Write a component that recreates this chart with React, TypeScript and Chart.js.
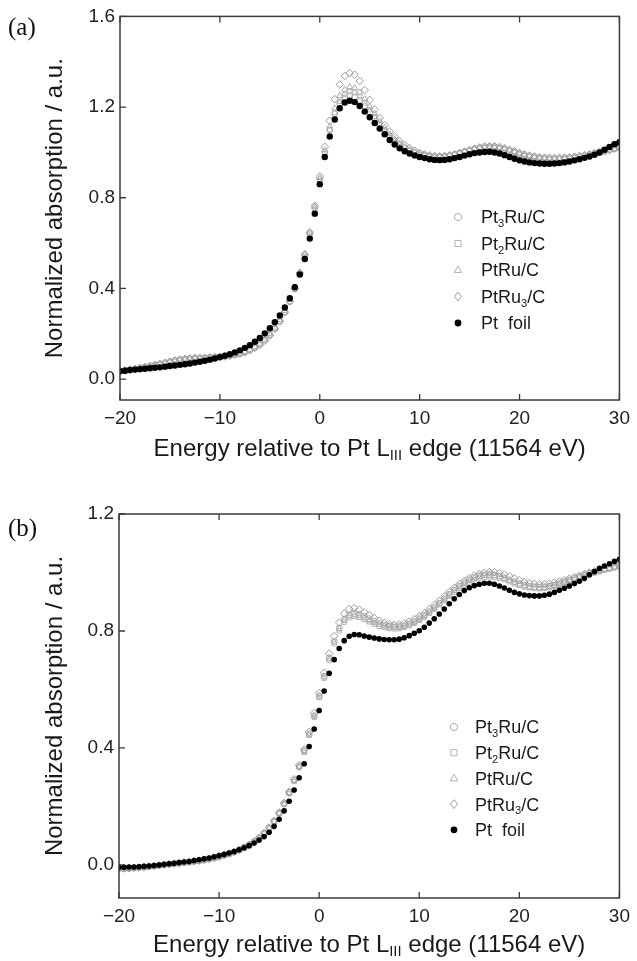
import React, { useEffect, useRef } from "react";
import { Chart, registerables } from "chart.js";
Chart.register(...registerables);

// ---------- DATA ----------
const energy = [
  -20, -19.5, -19, -18.5, -18, -17.5, -17, -16.5, -16, -15.5,
  -15, -14.5, -14, -13.5, -13, -12.5, -12, -11.5, -11, -10.5,
  -10, -9.5, -9, -8.5, -8, -7.5, -7, -6.5, -6, -5.5,
  -5, -4.5, -4, -3.5, -3, -2.5, -2, -1.5, -1, -0.5,
  0, 0.5, 1, 1.5, 2, 2.5, 3, 3.5, 4, 4.5,
  5, 5.5, 6, 6.5, 7, 7.5, 8, 8.5, 9, 9.5,
  10, 10.5, 11, 11.5, 12, 12.5, 13, 13.5, 14, 14.5,
  15, 15.5, 16, 16.5, 17, 17.5, 18, 18.5, 19, 19.5,
  20, 20.5, 21, 21.5, 22, 22.5, 23, 23.5, 24, 24.5,
  25, 25.5, 26, 26.5, 27, 27.5, 28, 28.5, 29, 29.5,
  30,
];

// Panel (a)
const aPt3Ru = [
  0.036, 0.039, 0.042, 0.045, 0.049, 0.053, 0.057, 0.062, 0.067, 0.072,
  0.077, 0.082, 0.086, 0.089, 0.091, 0.092, 0.093, 0.094, 0.095, 0.097,
  0.099, 0.101, 0.104, 0.108, 0.113, 0.12, 0.129, 0.14, 0.155, 0.174,
  0.197, 0.225, 0.258, 0.298, 0.345, 0.4, 0.465, 0.545, 0.64, 0.755,
  0.88, 1.0, 1.1, 1.17, 1.215, 1.24, 1.25, 1.245, 1.23, 1.205,
  1.178, 1.15, 1.122, 1.096, 1.072, 1.052, 1.035, 1.02, 1.008, 0.998,
  0.99, 0.985, 0.982, 0.98, 0.98, 0.982, 0.985, 0.99, 0.995, 1.0,
  1.006, 1.012, 1.016, 1.019, 1.02, 1.019, 1.016, 1.011, 1.004, 0.997,
  0.99, 0.984, 0.979, 0.975, 0.972, 0.97, 0.969, 0.969, 0.97, 0.971,
  0.973, 0.976, 0.979, 0.983, 0.988, 0.993, 0.998, 1.004, 1.01, 1.017,
  1.024,
];
const aPt2Ru = [
  0.034, 0.037, 0.04, 0.043, 0.047, 0.051, 0.055, 0.06, 0.065, 0.07,
  0.075, 0.079, 0.083, 0.086, 0.088, 0.09, 0.091, 0.092, 0.094, 0.096,
  0.098, 0.1, 0.103, 0.107, 0.112, 0.119, 0.128, 0.139, 0.153, 0.171,
  0.194, 0.222, 0.255, 0.294, 0.34, 0.395, 0.46, 0.54, 0.635, 0.75,
  0.875, 0.995, 1.1, 1.175, 1.225, 1.255, 1.268, 1.263, 1.245, 1.218,
  1.188, 1.158, 1.128, 1.1, 1.075, 1.054, 1.036, 1.021, 1.009, 0.999,
  0.991, 0.986, 0.983, 0.981, 0.981, 0.983, 0.986, 0.991, 0.997, 1.003,
  1.009, 1.015, 1.02, 1.023, 1.024, 1.023, 1.02, 1.015, 1.008, 1.0,
  0.993, 0.987, 0.982, 0.978, 0.975, 0.973, 0.972, 0.972, 0.973, 0.974,
  0.976, 0.979, 0.982, 0.986, 0.99, 0.995, 1.0, 1.005, 1.011, 1.017,
  1.023,
];
const aPtRu = [
  0.037, 0.04, 0.043, 0.047, 0.051, 0.055, 0.06, 0.064, 0.069, 0.074,
  0.079, 0.084, 0.088, 0.091, 0.093, 0.094, 0.095, 0.096, 0.097, 0.098,
  0.1, 0.102, 0.105, 0.109, 0.114, 0.121, 0.13, 0.142, 0.157, 0.176,
  0.2, 0.228, 0.262, 0.302, 0.35, 0.406, 0.472, 0.552, 0.648, 0.762,
  0.888, 1.01, 1.115, 1.195, 1.25, 1.278, 1.29, 1.285, 1.265, 1.236,
  1.203, 1.17, 1.138, 1.108, 1.082, 1.06, 1.041, 1.025, 1.012, 1.002,
  0.994, 0.988, 0.984, 0.982, 0.982, 0.984, 0.987, 0.992, 0.998, 1.004,
  1.01, 1.016, 1.021, 1.024, 1.026, 1.025, 1.022, 1.017, 1.01, 1.003,
  0.996, 0.99, 0.985, 0.981, 0.978, 0.976, 0.975, 0.975, 0.975, 0.976,
  0.978, 0.98, 0.983, 0.987, 0.991, 0.996, 1.0, 1.005, 1.01, 1.015,
  1.02,
];
const aPtRu3 = [
  0.035, 0.038, 0.041, 0.044, 0.048, 0.052, 0.056, 0.061, 0.066, 0.071,
  0.076, 0.081, 0.085, 0.088, 0.09, 0.092, 0.093, 0.094, 0.095, 0.096,
  0.098, 0.1, 0.103, 0.107, 0.112, 0.118, 0.127, 0.138, 0.152, 0.17,
  0.193, 0.221, 0.255, 0.295, 0.343, 0.4, 0.468, 0.55, 0.648, 0.765,
  0.895, 1.025, 1.14, 1.235, 1.3, 1.337, 1.35, 1.343, 1.315, 1.275,
  1.232, 1.19, 1.152, 1.12, 1.093, 1.07, 1.05, 1.033, 1.019, 1.008,
  0.999, 0.992, 0.987, 0.984, 0.983, 0.984, 0.987, 0.992, 0.998, 1.004,
  1.011, 1.017, 1.022, 1.026, 1.028, 1.027, 1.024, 1.019, 1.012, 1.005,
  0.998, 0.991, 0.986, 0.982, 0.979, 0.977, 0.976, 0.976, 0.976, 0.977,
  0.979, 0.981, 0.984, 0.988, 0.992, 0.997, 1.002, 1.007, 1.012, 1.017,
  1.022,
];
const aPtFoil = [
  0.035, 0.037, 0.04, 0.042, 0.044, 0.046, 0.048, 0.05, 0.052, 0.055,
  0.058, 0.06, 0.063, 0.066, 0.069, 0.073, 0.077, 0.081, 0.086, 0.091,
  0.097, 0.103, 0.11, 0.118, 0.127, 0.138, 0.15, 0.165, 0.182, 0.202,
  0.225, 0.251, 0.281, 0.316, 0.357, 0.405, 0.462, 0.53, 0.62, 0.73,
  0.86, 0.98, 1.07, 1.145, 1.195, 1.22, 1.228, 1.222, 1.205, 1.18,
  1.155, 1.13, 1.105, 1.08, 1.055, 1.035, 1.018, 1.005, 0.995, 0.987,
  0.98, 0.975, 0.97, 0.967, 0.966, 0.967, 0.97, 0.975, 0.98, 0.986,
  0.992, 0.997, 1.0, 1.002, 1.003, 1.0, 0.995, 0.988, 0.98, 0.972,
  0.965, 0.96, 0.956, 0.953, 0.951, 0.95, 0.95, 0.951, 0.953, 0.956,
  0.96, 0.965, 0.97, 0.976, 0.982, 0.99, 1.0, 1.012, 1.024, 1.036,
  1.045,
];

// Panel (b)
const bPt3Ru = [
  -0.012, -0.013, -0.012, -0.01, -0.008, -0.008, -0.006, -0.004, -0.002, 0.0,
  0.002, 0.004, 0.006, 0.008, 0.01, 0.012, 0.014, 0.017, 0.02, 0.024,
  0.028, 0.033, 0.038, 0.044, 0.051, 0.059, 0.068, 0.079, 0.092, 0.108,
  0.127, 0.15, 0.178, 0.21, 0.248, 0.29, 0.337, 0.39, 0.448, 0.51,
  0.578, 0.645, 0.708, 0.765, 0.81, 0.84, 0.855, 0.86, 0.857, 0.85,
  0.842, 0.834, 0.826, 0.82, 0.816, 0.814, 0.815, 0.818, 0.824, 0.832,
  0.842, 0.853, 0.866, 0.88, 0.895, 0.91, 0.925, 0.94, 0.953, 0.965,
  0.975, 0.983, 0.989, 0.992, 0.993, 0.992, 0.988, 0.982, 0.975, 0.968,
  0.962, 0.957, 0.953, 0.951, 0.95, 0.951, 0.953, 0.957, 0.962, 0.968,
  0.974, 0.98, 0.986, 0.992, 0.998, 1.003, 1.008, 1.012, 1.016, 1.02,
  1.024,
];
const bPt2Ru = [
  -0.01, -0.011, -0.011, -0.009, -0.008, -0.007, -0.005, -0.003, -0.001, 0.001,
  0.003, 0.005, 0.007, 0.009, 0.011, 0.013, 0.015, 0.018, 0.021, 0.025,
  0.029, 0.034, 0.039, 0.045, 0.052, 0.06, 0.069, 0.08, 0.093, 0.108,
  0.126, 0.148, 0.175, 0.206, 0.243, 0.285, 0.332, 0.385, 0.443, 0.505,
  0.572, 0.638, 0.7, 0.756, 0.8, 0.83, 0.845, 0.849, 0.846, 0.839,
  0.831, 0.823, 0.816, 0.811, 0.808, 0.807, 0.808, 0.812, 0.818, 0.826,
  0.836, 0.847, 0.86, 0.874, 0.889, 0.904, 0.919, 0.933, 0.946, 0.957,
  0.967, 0.975, 0.981, 0.984, 0.985, 0.984, 0.98, 0.975, 0.968, 0.961,
  0.955, 0.95, 0.947, 0.945, 0.944, 0.945, 0.948, 0.952, 0.957, 0.963,
  0.969, 0.975, 0.981, 0.987, 0.993, 0.998, 1.003, 1.008, 1.012, 1.016,
  1.02,
];
const bPtRu = [
  -0.013, -0.014, -0.013, -0.011, -0.009, -0.009, -0.007, -0.005, -0.003, -0.001,
  0.001, 0.003, 0.005, 0.007, 0.009, 0.011, 0.013, 0.016, 0.019, 0.023,
  0.027, 0.032, 0.037, 0.043, 0.05, 0.058, 0.067, 0.078, 0.091, 0.107,
  0.126, 0.149, 0.177, 0.209, 0.247, 0.289, 0.336, 0.389, 0.447, 0.509,
  0.576, 0.643, 0.706, 0.763, 0.807, 0.837, 0.851, 0.854, 0.851, 0.844,
  0.836, 0.828, 0.821, 0.816, 0.813, 0.812, 0.813, 0.817, 0.823, 0.831,
  0.841, 0.852, 0.865, 0.879, 0.894, 0.909, 0.924, 0.938, 0.951, 0.962,
  0.972, 0.98, 0.986, 0.989, 0.99, 0.989, 0.985, 0.98, 0.973, 0.966,
  0.959, 0.954, 0.95, 0.948, 0.947, 0.948, 0.951, 0.955, 0.96, 0.966,
  0.972, 0.978, 0.984, 0.99, 0.995, 1.0, 1.005, 1.01, 1.014, 1.018,
  1.022,
];
const bPtRu3 = [
  -0.012, -0.012, -0.011, -0.01, -0.009, -0.007, -0.005, -0.003, -0.001, 0.001,
  0.003, 0.005, 0.007, 0.009, 0.011, 0.013, 0.015, 0.018, 0.021, 0.025,
  0.029, 0.034, 0.039, 0.045, 0.052, 0.06, 0.069, 0.08, 0.093, 0.109,
  0.128, 0.151, 0.179, 0.212, 0.25, 0.293, 0.341, 0.395, 0.455, 0.519,
  0.588, 0.657, 0.723, 0.782, 0.829, 0.86, 0.875, 0.878, 0.873, 0.864,
  0.854, 0.844, 0.835, 0.828, 0.823, 0.821, 0.822, 0.826, 0.832, 0.84,
  0.85, 0.861, 0.874, 0.888, 0.903, 0.918, 0.933, 0.947, 0.96, 0.971,
  0.981, 0.989, 0.995, 0.999, 1.001, 1.001, 0.998, 0.993, 0.987, 0.98,
  0.974, 0.968, 0.964, 0.961, 0.96, 0.96, 0.962, 0.965, 0.969, 0.974,
  0.979, 0.984, 0.989, 0.994, 0.999, 1.004, 1.008, 1.012, 1.016, 1.02,
  1.024,
];
const bPtFoil = [
  -0.008, -0.008, -0.007, -0.007, -0.006, -0.005, -0.004, -0.002, 0.0, 0.002,
  0.004, 0.006, 0.008, 0.01, 0.012, 0.015, 0.018, 0.021, 0.024, 0.028,
  0.032, 0.036, 0.041, 0.046, 0.052, 0.059, 0.066, 0.075, 0.085, 0.097,
  0.112, 0.132, 0.156, 0.185, 0.218, 0.256, 0.298, 0.346, 0.405, 0.465,
  0.528, 0.595, 0.655, 0.702, 0.74, 0.767, 0.782, 0.788, 0.787, 0.783,
  0.779, 0.776, 0.773, 0.771, 0.77, 0.77, 0.772, 0.777, 0.784, 0.792,
  0.801, 0.813, 0.827, 0.842, 0.858, 0.875, 0.893, 0.91, 0.925, 0.938,
  0.948, 0.955, 0.96, 0.963, 0.963, 0.96, 0.954, 0.947, 0.939, 0.932,
  0.927, 0.923, 0.921, 0.92, 0.92, 0.922, 0.926, 0.932, 0.939, 0.946,
  0.954, 0.962, 0.97, 0.98, 0.992, 1.003, 1.014, 1.022, 1.03, 1.038,
  1.045,
];

const xTicks = [-20, -10, 0, 10, 20, 30];
const aYTicks = [0, 0.4, 0.8, 1.2, 1.6];
const bYTicks = [0, 0.4, 0.8, 1.2];

type Part = { t: string; sub?: boolean };
const seriesNames: Part[][] = [
  [{ t: "Pt" }, { t: "3", sub: true }, { t: "Ru/C" }],
  [{ t: "Pt" }, { t: "2", sub: true }, { t: "Ru/C" }],
  [{ t: "PtRu/C" }],
  [{ t: "PtRu" }, { t: "3", sub: true }, { t: "/C" }],
  [{ t: "Pt  foil" }],
];
const xTitle: Part[] = [
  { t: "Energy relative to Pt L" },
  { t: "III", sub: true },
  { t: " edge (11564 eV)" },
];
const yTitle = "Normalized absorption / a.u.";

// ---------- STYLE ----------
const FONT = '"Liberation Sans", Arial, Helvetica, sans-serif';
const SERIF = '"Liberation Serif", "Times New Roman", serif';
const styles = [
  { shape: "circle", color: "#ababab", r: 3, fill: false },
  { shape: "rect", color: "#b3b3b3", r: 3, fill: false },
  { shape: "triangle", color: "#b0b0b0", r: 3.5, fill: false },
  { shape: "rectRot", color: "#9c9c9c", r: 3.8, fill: false },
  { shape: "circle", color: "#000000", r: 2.8, fill: true },
];

function fontStr(size: number, family = FONT) {
  return `${size}px ${family}`;
}

function partsWidth(ctx: CanvasRenderingContext2D, parts: Part[], size: number) {
  let w = 0;
  for (const p of parts) {
    ctx.font = fontStr(p.sub ? size * 0.62 : size);
    w += ctx.measureText(p.t).width;
  }
  return w;
}

function drawParts(
  ctx: CanvasRenderingContext2D,
  parts: Part[],
  x: number,
  cy: number,
  size: number,
  align: "left" | "center"
) {
  const w = partsWidth(ctx, parts, size);
  let cx = align === "center" ? x - w / 2 : x;
  const base = cy + size * 0.36;
  ctx.textAlign = "left";
  ctx.textBaseline = "alphabetic";
  for (const p of parts) {
    const s = p.sub ? size * 0.62 : size;
    ctx.font = fontStr(s);
    ctx.fillText(p.t, cx, p.sub ? base + size * 0.2 : base);
    cx += ctx.measureText(p.t).width;
  }
}

function drawMarker(ctx: CanvasRenderingContext2D, st: any, x: number, y: number) {
  const r = st.r + 0.6;
  ctx.save();
  ctx.lineWidth = 1;
  ctx.strokeStyle = st.color;
  ctx.fillStyle = st.color;
  ctx.beginPath();
  if (st.shape === "circle") {
    ctx.arc(x, y, r, 0, Math.PI * 2);
  } else if (st.shape === "rect") {
    ctx.rect(x - r * 0.85, y - r * 0.85, r * 1.7, r * 1.7);
  } else if (st.shape === "triangle") {
    ctx.moveTo(x, y - r);
    ctx.lineTo(x + r * 0.9, y + r * 0.6);
    ctx.lineTo(x - r * 0.9, y + r * 0.6);
    ctx.closePath();
  } else {
    ctx.moveTo(x, y - r);
    ctx.lineTo(x + r * 0.8, y);
    ctx.lineTo(x, y + r);
    ctx.lineTo(x - r * 0.8, y);
    ctx.closePath();
  }
  if (st.fill) ctx.fill();
  else ctx.stroke();
  ctx.restore();
}

interface PanelCfg {
  label: string;
  labelY: number;
  series: number[][];
  yMin: number;
  yMax: number;
  yTicks: number[];
  padTop: number;
  padRight: number;
  yAxisW: number;
  xAxisH: number;
  legendMarkerX: number;
  legendTextX: number;
  legendY: number;
  legendGap: number;
  xTitleY: number;
  foilRadius: number;
}

function buildChart(canvas: HTMLCanvasElement, cfg: PanelCfg) {
  const decor = {
    id: "decor",
    afterDatasetsDraw(chart: any) {
      const ctx: CanvasRenderingContext2D = chart.ctx;
      const a = chart.chartArea;
      const xs = chart.scales.x;
      const ys = chart.scales.y;
      ctx.save();
      // frame
      ctx.strokeStyle = "#3a3a3a";
      ctx.lineWidth = 1.5;
      ctx.strokeRect(a.left, a.top, a.right - a.left, a.bottom - a.top);
      // inward tick marks
      ctx.lineWidth = 1.3;
      ctx.beginPath();
      for (const v of xTicks) {
        const px = xs.getPixelForValue(v);
        ctx.moveTo(px, a.bottom);
        ctx.lineTo(px, a.bottom - 6);
        ctx.moveTo(px, a.top);
        ctx.lineTo(px, a.top + 6);
      }
      for (const v of cfg.yTicks) {
        const py = ys.getPixelForValue(v);
        ctx.moveTo(a.left, py);
        ctx.lineTo(a.left + 6, py);
      }
      ctx.stroke();

      // legend
      seriesNames.forEach((parts, i) => {
        const y = cfg.legendY + i * cfg.legendGap;
        drawMarker(ctx, styles[i], cfg.legendMarkerX, y);
        ctx.fillStyle = "#1a1a1a";
        drawParts(ctx, parts, cfg.legendTextX, y, 18, "left");
      });

      // x title
      ctx.fillStyle = "#1a1a1a";
      drawParts(ctx, xTitle, (a.left + a.right) / 2, cfg.xTitleY, 24, "center");

      // y title
      ctx.save();
      ctx.translate(55, (a.top + a.bottom) / 2);
      ctx.rotate(-Math.PI / 2);
      ctx.font = fontStr(24);
      ctx.textAlign = "center";
      ctx.textBaseline = "middle";
      ctx.fillText(yTitle, 0, 0);
      ctx.restore();

      // panel label
      ctx.font = fontStr(25, SERIF);
      ctx.textAlign = "left";
      ctx.textBaseline = "middle";
      ctx.fillStyle = "#111";
      ctx.fillText(cfg.label, 8, cfg.labelY);
      ctx.restore();
    },
  };

  const datasets = cfg.series.map((vals, i) => {
    const st = styles[i];
    return {
      label: seriesNames[i].map((p) => p.t).join(""),
      data: energy.map((e, k) => ({ x: e, y: vals[k] })),
      showLine: false,
      pointStyle: st.shape,
      pointRadius: i === 4 ? cfg.foilRadius : st.r,
      pointBorderWidth: st.fill ? 0 : 1,
      pointBorderColor: st.color,
      pointBackgroundColor: st.fill ? st.color : "rgba(255,255,255,0)",
      order: i === 4 ? 0 : 5 - i,
    };
  });

  return new Chart(canvas, {
    type: "scatter",
    data: { datasets } as any,
    plugins: [decor],
    options: {
      responsive: false,
      animation: false,
      events: [],
      layout: { padding: { top: cfg.padTop, right: cfg.padRight, bottom: 0, left: 0 } },
      plugins: { legend: { display: false }, tooltip: { enabled: false } },
      scales: {
        x: {
          type: "linear",
          min: -20,
          max: 30,
          grid: { display: false, drawTicks: false },
          border: { display: false },
          ticks: {
            font: { family: FONT, size: 19 },
            color: "#222",
            padding: 7,
            maxRotation: 0,
            callback: (v: any) => (v < 0 ? "\u2212" + Math.abs(v) : String(v)),
          },
          afterBuildTicks: (s: any) => {
            s.ticks = xTicks.map((v) => ({ value: v }));
          },
          afterFit: (s: any) => {
            s.height = cfg.xAxisH;
          },
        },
        y: {
          type: "linear",
          min: cfg.yMin,
          max: cfg.yMax,
          grid: { display: false, drawTicks: false },
          border: { display: false },
          ticks: {
            font: { family: FONT, size: 19 },
            color: "#222",
            padding: 5,
            callback: (v: any) => Number(v).toFixed(1),
          },
          afterBuildTicks: (s: any) => {
            s.ticks = cfg.yTicks.map((v) => ({ value: v }));
          },
          afterFit: (s: any) => {
            s.width = cfg.yAxisW;
          },
        },
      },
    } as any,
  });
}

const panelA: PanelCfg = {
  label: "(a)",
  labelY: 28,
  series: [aPt3Ru, aPt2Ru, aPtRu, aPtRu3, aPtFoil],
  yMin: -0.092,
  yMax: 1.6,
  yTicks: aYTicks,
  padTop: 16,
  padRight: 11,
  yAxisW: 120,
  xAxisH: 80,
  legendMarkerX: 458,
  legendTextX: 481,
  legendY: 217,
  legendGap: 26.5,
  xTitleY: 447,
  foilRadius: 3.2,
};

const panelB: PanelCfg = {
  label: "(b)",
  labelY: 49,
  series: [bPt3Ru, bPt2Ru, bPtRu, bPtRu3, bPtFoil],
  yMin: -0.113,
  yMax: 1.2,
  yTicks: bYTicks,
  padTop: 34,
  padRight: 12,
  yAxisW: 119,
  xAxisH: 63,
  legendMarkerX: 454,
  legendTextX: 475,
  legendY: 247,
  legendGap: 25.7,
  xTitleY: 463,
  foilRadius: 2.8,
};

function Panel({ cfg, height }: { cfg: PanelCfg; height: number }) {
  const ref = useRef<HTMLCanvasElement>(null);
  useEffect(() => {
    if (!ref.current) return;
    const chart = buildChart(ref.current, cfg);
    return () => chart.destroy();
  }, [cfg]);
  return (
    <div style={{ width: 637, height }}>
      <canvas ref={ref} width={637} height={height} style={{ display: "block" }} />
    </div>
  );
}

export default function App() {
  return (
    <div
      style={{
        position: "absolute",
        left: 0,
        top: 0,
        width: 637,
        height: 961,
        background: "#fff",
      }}
    >
      <Panel cfg={panelA} height={480} />
      <Panel cfg={panelB} height={481} />
    </div>
  );
}
